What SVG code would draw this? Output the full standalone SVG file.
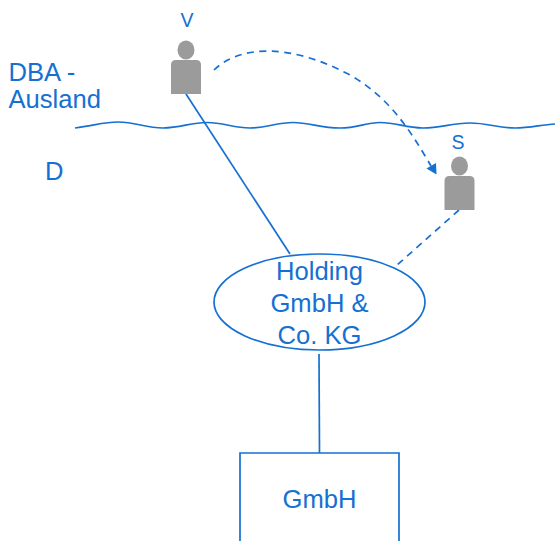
<svg xmlns="http://www.w3.org/2000/svg" width="555" height="541" viewBox="0 0 555 541">
  <style>
    text { font-family: "Liberation Sans", Arial, sans-serif; fill: #1570d2; }
    .big { font-size: 25.6px; }
    .small { font-size: 19.500px; }
    .mid { text-anchor: middle; }
    .line { fill: none; stroke: #1570d2; stroke-width: 1.7; }
    .dash { stroke-dasharray: 7 5.500; }
    .person { fill: #9b9b9b; }
  </style>
  <defs>
    <g id="person">
      <ellipse cx="15" cy="-44" rx="8.500" ry="9.500" class="person"/>
      <path d="M0 0V-29Q0 -34 5 -34H25Q30 -34 30 -29V0Z" class="person"/>
    </g>
  </defs>
  <g id="connectors">
    <path id="border" class="line" d="M75 128C96 125 105 122 118 122C136 122 145 128 163 128C181 128 190 122.500 207 122.500C224 122.500 233 128 250 128C267 128 276 122.500 293 122.500C310 122.500 320 128 340 128C358 128 365 122.500 380 122.500C397 122.500 405 128 423 128C442 128 450 123 470 123C488 123 497 128 515 128C530 128 540 125 555 124"/>
    <path class="line" d="M186 94L290 254"/>
    <path class="line dash" d="M459 210L396 266"/>
    <path class="line" d="M319 354L319.500 453"/>
    <path class="line dash" d="M214 70C240 45 290 43 350 75C390 98 410 130 431 166"/>
    <polygon points="426.500,168.500 436,163 436.500,174.500" fill="#1570d2"/>
  </g>
  <g id="label-dba">
    <text class="big" x="8.500" y="81">DBA -</text>
    <text class="big" x="8.500" y="108">Ausland</text>
  </g>
  <g id="label-d"><text class="big" x="45" y="180">D</text></g>
  <g id="node-v">
    <text class="small mid" x="187" y="26.500">V</text>
    <use href="#person" x="171" y="94"/>
  </g>
  <g id="node-s">
    <text class="small mid" x="458" y="148.500">S</text>
    <use href="#person" x="444.500" y="210"/>
  </g>
  <g id="node-holding">
    <ellipse class="line" cx="319.500" cy="302" rx="105.500" ry="48"/>
    <text class="big mid" x="319.500" y="280">Holding</text>
    <text class="big mid" x="319.500" y="312">GmbH &amp;</text>
    <text class="big mid" x="319.500" y="344">Co. KG</text>
  </g>
  <g id="node-gmbh">
    <path class="line" d="M240 541V453H399V541"/>
    <text class="big mid" x="319.500" y="507.500">GmbH</text>
  </g>
</svg>
